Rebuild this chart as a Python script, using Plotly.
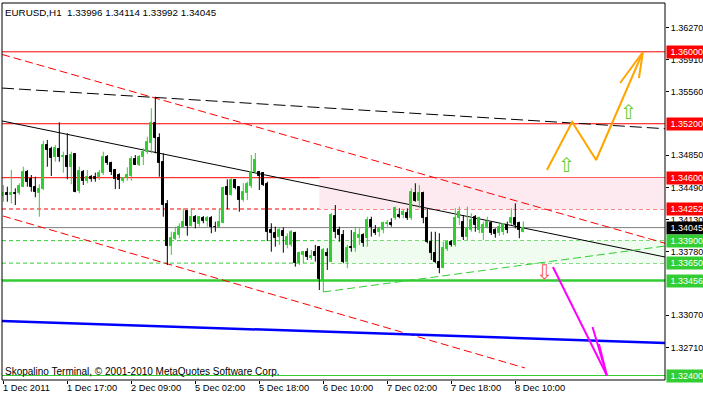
import plotly.graph_objects as go

# ---------------- data ----------------
opens = [1.34397,1.34433,1.34408,1.34433,1.34427,1.34500,1.34667,1.34589,1.34500,1.34427,
         1.34471,1.34964,1.34919,1.34827,1.34919,1.34834,1.34845,1.34716,1.34864,1.34455,
         1.34667,1.34567,1.34604,1.34604,1.34604,1.34649,1.34834,1.34767,1.34686,1.34630,
         1.34567,1.34593,1.34619,1.34805,1.34741,1.34834,1.34889,1.34983,1.35205,1.35038,
         1.34778,1.34308,1.33840,1.33918,1.33963,1.34055,1.34230,1.34063,1.34160,1.34085,
         1.34152,1.34119,1.34152,1.34055,1.34048,1.34100,1.34493,1.34408,1.34574,1.34493,
         1.34352,1.34433,1.34508,1.34663,1.34663,1.34652,1.34530,1.34018,1.33988,1.33944,
         1.34011,1.33852,1.33852,1.33988,1.33648,1.33740,1.33777,1.33710,1.33777,1.33833,
         1.33462,1.33766,1.33666,1.34174,1.34018,1.33963,1.33666,1.33833,1.33815,1.33926,
         1.33963,1.33926,1.34130,1.34018,1.33999,1.34018,1.34085,1.34100,1.34149,1.34185,
         1.34185,1.34204,1.34149,1.34427,1.34341,1.34427,1.34149,1.33888,1.33759,1.33666,
         1.33599,1.33807,1.33888,1.33852,1.34150,1.34111,1.33944,1.34018,1.34166,1.34018,
         1.33982,1.34055,1.34093,1.34018,1.33982,1.33999,1.34074,1.34093,1.34155,1.34093,
         1.33996]
highs = [1.34519,1.34500,1.34686,1.34482,1.34538,1.34722,1.34686,1.34630,1.34611,1.34527,
         1.35011,1.35019,1.34945,1.34964,1.35216,1.34889,1.35094,1.34889,1.34871,1.34722,
         1.34686,1.34686,1.34630,1.34656,1.34686,1.34889,1.34852,1.34778,1.34697,1.34649,
         1.34604,1.34716,1.34841,1.34852,1.34852,1.34927,1.35056,1.35372,1.35501,1.35094,
         1.34871,1.34352,1.33999,1.34055,1.34093,1.34260,1.34233,1.34260,1.34185,1.34174,
         1.34174,1.34174,1.34174,1.34111,1.34252,1.34500,1.34582,1.34593,1.34582,1.34500,
         1.34538,1.34556,1.34852,1.34875,1.34675,1.34663,1.34556,1.34093,1.34055,1.34037,
         1.34048,1.33982,1.34018,1.33999,1.33777,1.33785,1.33815,1.33796,1.33852,1.33840,
         1.33818,1.33815,1.34207,1.34296,1.34055,1.34018,1.33852,1.34018,1.34055,1.34037,
         1.33982,1.34166,1.34166,1.34074,1.34055,1.34111,1.34130,1.34149,1.34278,1.34260,
         1.34241,1.34260,1.34482,1.34538,1.34519,1.34444,1.34260,1.33999,1.33999,1.33982,
         1.33888,1.33907,1.33907,1.34260,1.34278,1.34185,1.34278,1.34204,1.34185,1.34166,
         1.34111,1.34166,1.34111,1.34037,1.34093,1.34093,1.34111,1.34260,1.34315,1.34111,
         1.34114]
lows = [1.34333,1.34333,1.34315,1.34296,1.34408,1.34495,1.34500,1.34444,1.34382,1.34166,
        1.34463,1.34722,1.34619,1.34778,1.34778,1.34656,1.34582,1.34527,1.34438,1.34427,
        1.34519,1.34538,1.34556,1.34556,1.34574,1.34630,1.34741,1.34630,1.34474,1.34474,
        1.34544,1.34567,1.34567,1.34741,1.34730,1.34741,1.34864,1.34871,1.34871,1.34611,
        1.34166,1.33629,1.33740,1.33907,1.33926,1.34050,1.33955,1.34058,1.34037,1.34055,
        1.34093,1.34055,1.33982,1.33999,1.34044,1.34093,1.34249,1.34402,1.34471,1.34222,
        1.34333,1.34352,1.34485,1.34641,1.34463,1.34508,1.33896,1.33777,1.33833,1.33852,
        1.33766,1.33815,1.33833,1.33610,1.33629,1.33648,1.33685,1.33685,1.33666,1.33351,
        1.33329,1.33574,1.33663,1.33926,1.33888,1.33648,1.33593,1.33777,1.33777,1.33852,
        1.33833,1.33833,1.33944,1.33963,1.33944,1.33982,1.34055,1.34055,1.34130,1.34149,
        1.34149,1.34130,1.34130,1.34333,1.34260,1.34093,1.33871,1.33685,1.33648,1.33537,
        1.33593,1.33785,1.33833,1.33833,1.34074,1.33907,1.33907,1.33999,1.33999,1.33982,
        1.33907,1.34037,1.33963,1.33933,1.33955,1.33963,1.33982,1.34074,1.34037,1.33926,
        1.33992]
closes = [1.34427,1.34411,1.34427,1.34419,1.34508,1.34667,1.34556,1.34493,1.34444,1.34474,
          1.34964,1.34908,1.34822,1.34927,1.34834,1.34845,1.34716,1.34852,1.34444,1.34675,
          1.34567,1.34604,1.34589,1.34589,1.34649,1.34827,1.34767,1.34667,1.34582,1.34574,
          1.34593,1.34630,1.34808,1.34745,1.34834,1.34886,1.35000,1.35205,1.35038,1.34767,
          1.34296,1.33840,1.33926,1.33982,1.34055,1.34111,1.34063,1.34166,1.34111,1.34160,
          1.34122,1.34155,1.34048,1.34048,1.34104,1.34482,1.34408,1.34574,1.34482,1.34352,
          1.34444,1.34530,1.34663,1.34797,1.34619,1.34519,1.33999,1.33982,1.33926,1.34018,
          1.33952,1.33944,1.33999,1.33655,1.33759,1.33777,1.33722,1.33729,1.33729,1.33470,
          1.33796,1.33729,1.34185,1.33999,1.33963,1.33666,1.33815,1.33815,1.33982,1.33963,
          1.33871,1.34130,1.34055,1.33988,1.34026,1.34093,1.34100,1.34074,1.34260,1.34166,
          1.34215,1.34149,1.34444,1.34341,1.34427,1.34149,1.33888,1.33759,1.33666,1.33599,
          1.33815,1.33888,1.33852,1.34150,1.34222,1.33944,1.34037,1.34130,1.34074,1.34149,
          1.34074,1.34111,1.33982,1.33970,1.34055,1.34082,1.34018,1.34149,1.34074,1.34018,
          1.34045]

time_tick_pos = [0, 16, 32, 48, 64, 80, 96, 112, 128]
time_tick_labels = ["1 Dec 2011", "1 Dec 17:00", "2 Dec 09:00", "5 Dec 02:00", "5 Dec 18:00",
                    "6 Dec 10:00", "7 Dec 02:00", "7 Dec 18:00", "8 Dec 10:00"]
price_ticks = [1.32710, 1.33070, 1.33780, 1.34130, 1.34490,
               1.34850, 1.35560, 1.35910, 1.36270]

# horizontal levels: price, colour, dash, width
level_prices = [1.36000, 1.35200, 1.34600, 1.34252, 1.34045, 1.33900, 1.33650, 1.33456, 1.32400]
level_colors = ["#ff0000", "#ff0000", "#ff0000", "#ff0000", "#808080", "#32cd32", "#32cd32", "#32cd32", "#32cd32"]
level_dash = ["solid", "solid", "solid", "4px,3px", "solid", "4px,3px", "4px,3px", "solid", "solid"]
level_width = [1, 1, 1, 1, 1, 1, 1, 2.5, 1]
label_bg = ["#ff0000", "#ff0000", "#ff0000", "#ff0000", "#000000", "#32cd32", "#32cd32", "#32cd32", "#32cd32"]

# zones (start bar, upper price, lower price)
zone_start = [79, 79]
zone_top = [1.34600, 1.33900]
zone_bottom = [1.34252, 1.33650]
zone_fill = ["#fdeaf0", "#effcef"]

# trend lines: x0, y0, x1, y1
tl_x0 = [-0.33, -0.33, -0.33, -0.08, 80.0, -0.33]
tl_y0 = [1.35597, 1.35231, 1.35971, 1.34174, 1.33329, 1.33006]
tl_x1 = [165.42, 165.42, 165.42, 130.4, 165.42, 165.42]
tl_y1 = [1.35145, 1.33718, 1.33871, 1.32484, 1.33840, 1.32762]
tl_color = ["#000000", "#000000", "#ff0000", "#ff0000", "#32cd32", "#0000ff"]
tl_dash = ["12px,5px", "solid", "8px,4px", "8px,4px", "8px,4px", "solid"]
tl_width = [1, 1, 1, 1, 1, 2.5]

# forecast arrows
orange_x = [135.9, 142.2, 148.2, 159.9]
orange_y = [1.34686, 1.35219, 1.34797, 1.35998]
orange_head_x = [154.2, 159.9, 158.9]
orange_head_y = [1.35653, 1.35998, 1.35709]
magenta_x = [137.4, 150.9]
magenta_y = [1.33607, 1.32400]
magenta_head_x = [147.3, 150.9, 148.9]
magenta_head_y = [1.32940, 1.32400, 1.32750]

sym_x = [140.7, 156.2, 135.4]
sym_y = [1.34741, 1.35331, 1.33551]
sym_text = ["⇧", "⇧", "⇩"]
sym_color = ["#66cc22", "#66cc22", "#ff5555"]

title_text = "EURUSD,H1\u00a0 1.33996 1.34114 1.33992 1.34045"
copyright_text = "Skopalino Terminal, © 2001-2010 MetaQuotes Software Corp."

FONT = "Liberation Sans, Arial, sans-serif"

# ---------------- figure ----------------
fig = go.Figure()
n = len(opens)
idx = list(range(n))

shapes = []
for s, t, b, c in zip(zone_start, zone_top, zone_bottom, zone_fill):
    shapes.append(dict(type="rect", xref="x", yref="y", x0=s, x1=200, y0=b, y1=t,
                       fillcolor=c, line=dict(width=0), layer="below"))
for p, c, d, w in zip(level_prices, level_colors, level_dash, level_width):
    shapes.append(dict(type="line", xref="paper", yref="y", x0=0, x1=1, y0=p, y1=p,
                       line=dict(color=c, dash=d, width=w), layer="below"))
for x0, y0, x1, y1, c, d, w in zip(tl_x0, tl_y0, tl_x1, tl_y1, tl_color, tl_dash, tl_width):
    shapes.append(dict(type="line", xref="x", yref="y", x0=x0, y0=y0, x1=x1, y1=y1,
                       line=dict(color=c, dash=d, width=w), layer="below"))
shapes.append(dict(type="rect", xref="paper", yref="paper", x0=0, x1=1, y0=0, y1=1,
                   line=dict(color="#000000", width=1)))

# wicks
for up, col in [(True, "#32cd32"), (False, "#000000")]:
    wx, wy = [], []
    for i in idx:
        if (closes[i] >= opens[i]) == up:
            wx += [i, i, None]
            wy += [lows[i], highs[i], None]
    fig.add_trace(go.Scatter(x=wx, y=wy, mode="lines", line=dict(color=col, width=1),
                             hoverinfo="skip", showlegend=False))
# bodies
for up, col in [(True, "#32cd32"), (False, "#000000")]:
    bx, bh, bb = [], [], []
    for i in idx:
        if (closes[i] >= opens[i]) == up:
            bx.append(i)
            bh.append(abs(closes[i] - opens[i]))
            bb.append(min(opens[i], closes[i]))
    fig.add_trace(go.Bar(x=bx, y=bh, base=bb, width=0.5, marker=dict(color=col, line=dict(color=col, width=1)),
                         showlegend=False, hoverinfo="skip"))

fig.add_trace(go.Scatter(x=orange_x, y=orange_y, mode="lines", line=dict(color="#ffa500", width=2),
                         showlegend=False, hoverinfo="skip"))
fig.add_trace(go.Scatter(x=orange_head_x, y=orange_head_y, mode="lines", line=dict(color="#ffa500", width=2),
                         showlegend=False, hoverinfo="skip"))
fig.add_trace(go.Scatter(x=magenta_x, y=magenta_y, mode="lines", line=dict(color="#ff00ff", width=2),
                         showlegend=False, hoverinfo="skip"))
fig.add_trace(go.Scatter(x=magenta_head_x, y=magenta_head_y, mode="lines", line=dict(color="#ff00ff", width=2),
                         showlegend=False, hoverinfo="skip"))

annotations = []
for x, y, t, c in zip(sym_x, sym_y, sym_text, sym_color):
    annotations.append(dict(x=x, y=y, xref="x", yref="y", text=t, showarrow=False,
                            font=dict(family="DejaVu Sans", size=20, color=c)))
for p, bg in zip(level_prices, label_bg):
    annotations.append(dict(x=1, y=p, xref="paper", yref="y", xanchor="left", yanchor="middle",
                            xshift=1, text="\u00a0" + f"{p:.5f}", showarrow=False, bgcolor=bg,
                            borderpad=1, font=dict(family=FONT, size=9, color="#ffffff")))
for pos, lab in zip(time_tick_pos, time_tick_labels):
    annotations.append(dict(x=pos, y=0, xref="x", yref="paper", xanchor="left", yanchor="top",
                            yshift=-1, xshift=-2, text=lab, showarrow=False,
                            font=dict(family=FONT, size=9.3, color="#000000")))
annotations.append(dict(x=0, y=1, xref="paper", yref="paper", xanchor="left", yanchor="top",
                        xshift=1, yshift=-2, text=title_text, showarrow=False,
                        font=dict(family=FONT, size=9.8, color="#000000")))
annotations.append(dict(x=0, y=0, xref="paper", yref="paper", xanchor="left", yanchor="bottom",
                        xshift=1, yshift=1, text=copyright_text, showarrow=False,
                        font=dict(family=FONT, size=10, color="#000000")))

fig.update_layout(
    width=703, height=398,
    margin=dict(l=2, r=38, t=3, b=18, autoexpand=False),
    paper_bgcolor="#ffffff", plot_bgcolor="#ffffff",
    shapes=shapes, annotations=annotations,
    barmode="overlay", bargap=0,
    xaxis=dict(range=[-0.33, 165.42], showgrid=False, zeroline=False, tickvals=time_tick_pos,
               ticks="outside", ticklen=3, tickcolor="#000000", showticklabels=False,
               fixedrange=True, automargin=False),
    yaxis=dict(range=[1.32350, 1.36543], side="right", showgrid=False, zeroline=False,
               tickvals=price_ticks, ticktext=[f"{p:.5f}" for p in price_ticks],
               ticks="outside", ticklen=3, tickcolor="#000000", automargin=False,
               tickfont=dict(family=FONT, size=9, color="#000000"), fixedrange=True),
)

fig.write_html("out.html", config={"displayModeBar": False},
               post_script="document.body.style.margin='0';document.body.style.overflow='hidden';")
